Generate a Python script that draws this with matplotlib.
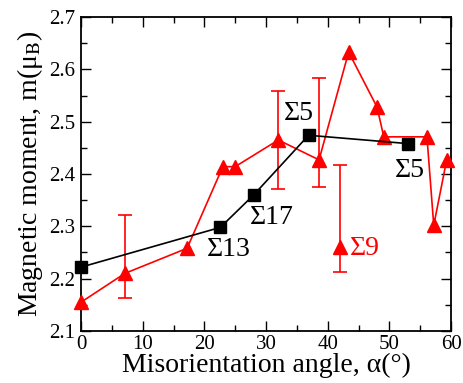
import matplotlib
matplotlib.use("Agg")

import matplotlib.pyplot as plt
from matplotlib.ticker import MultipleLocator


# Black squares (CSL boundaries)
sq_angle = [0, 22.6, 28.0, 36.9, 53.1]
sq_moment = [2.222, 2.298, 2.360, 2.474, 2.458]

# Red triangles (connected series)
tri_angle = [0, 7.1, 17.2, 23.0, 25.0, 32.0, 38.6, 43.4, 48.0, 49.1, 56.1, 57.2, 59.3]
tri_moment = [2.155, 2.210, 2.258, 2.414, 2.414, 2.465, 2.427, 2.633, 2.528, 2.471, 2.471, 2.302, 2.427]

# Error bars on some red points
err_angle = [7.1, 32.0, 38.6]
err_center = [2.210, 2.465, 2.427]
err_low = [2.163, 2.372, 2.375]
err_high = [2.321, 2.558, 2.583]

# Isolated Sigma 9 point
s9_angle = [42.0]
s9_moment = [2.260]
s9_low = [2.212]
s9_high = [2.417]

labels = ["Σ5", "Σ5", "Σ13", "Σ17"]
label_x = [32.9, 50.9, 20.4, 27.4]
label_y = [2.516, 2.407, 2.255, 2.316]


plt.rcParams["font.family"] = ["Liberation Serif", "DejaVu Serif"]
plt.rcParams["mathtext.fontset"] = "stix"

fig = plt.figure(figsize=(4.64, 3.83), dpi=100)
ax = fig.add_axes([0.1746, 0.1358, 0.7974, 0.8198])

ax.plot(tri_angle, tri_moment, "-", color="red", lw=1.2, marker="^",
        markersize=10, zorder=3, clip_on=False)

ax.errorbar(err_angle, err_center,
            yerr=[[c - l for c, l in zip(err_center, err_low)],
                  [h - c for c, h in zip(err_center, err_high)]],
            fmt="none", ecolor="red", elinewidth=1.2, capsize=5, capthick=1.2)

ax.errorbar(s9_angle, s9_moment,
            yerr=[[c - l for c, l in zip(s9_moment, s9_low)],
                  [h - c for c, h in zip(s9_moment, s9_high)]],
            fmt="^", color="red", ecolor="red", markersize=10,
            elinewidth=1.2, capsize=5, capthick=1.2)

ax.plot(sq_angle, sq_moment, "-", color="black", lw=1.2, marker="s",
        markersize=8.5, zorder=4, clip_on=False)

for t, x, y in zip(labels, label_x, label_y):
    ax.text(x, y, t, fontsize=20, color="black", ha="left", va="center")

ax.text(43.6, 2.258, "Σ9", fontsize=20, color="red", ha="left", va="center")

ax.set_xlim(0, 60)
ax.set_ylim(2.1, 2.7)
ax.xaxis.set_major_locator(MultipleLocator(10))
ax.xaxis.set_minor_locator(MultipleLocator(5))
ax.yaxis.set_major_locator(MultipleLocator(0.1))
ax.yaxis.set_minor_locator(MultipleLocator(0.05))

ax.tick_params(which="both", direction="in", top=True, right=True,
               labelsize=15, width=1)
ax.tick_params(which="major", length=7, pad=2)
ax.tick_params(axis="x", which="major", pad=3)
ax.tick_params(axis="y", which="major", pad=4)
ax.tick_params(which="minor", length=4)
for s in ax.spines.values():
    s.set_linewidth(1.3)

ax.set_xlabel("Misorientation angle, α(°)", fontsize=20, labelpad=-1)
ax.set_ylabel(r"Magnetic moment, m(μ$_\mathrm{B}$)", fontsize=20, labelpad=3)

fig.savefig("out.png", dpi=100)
